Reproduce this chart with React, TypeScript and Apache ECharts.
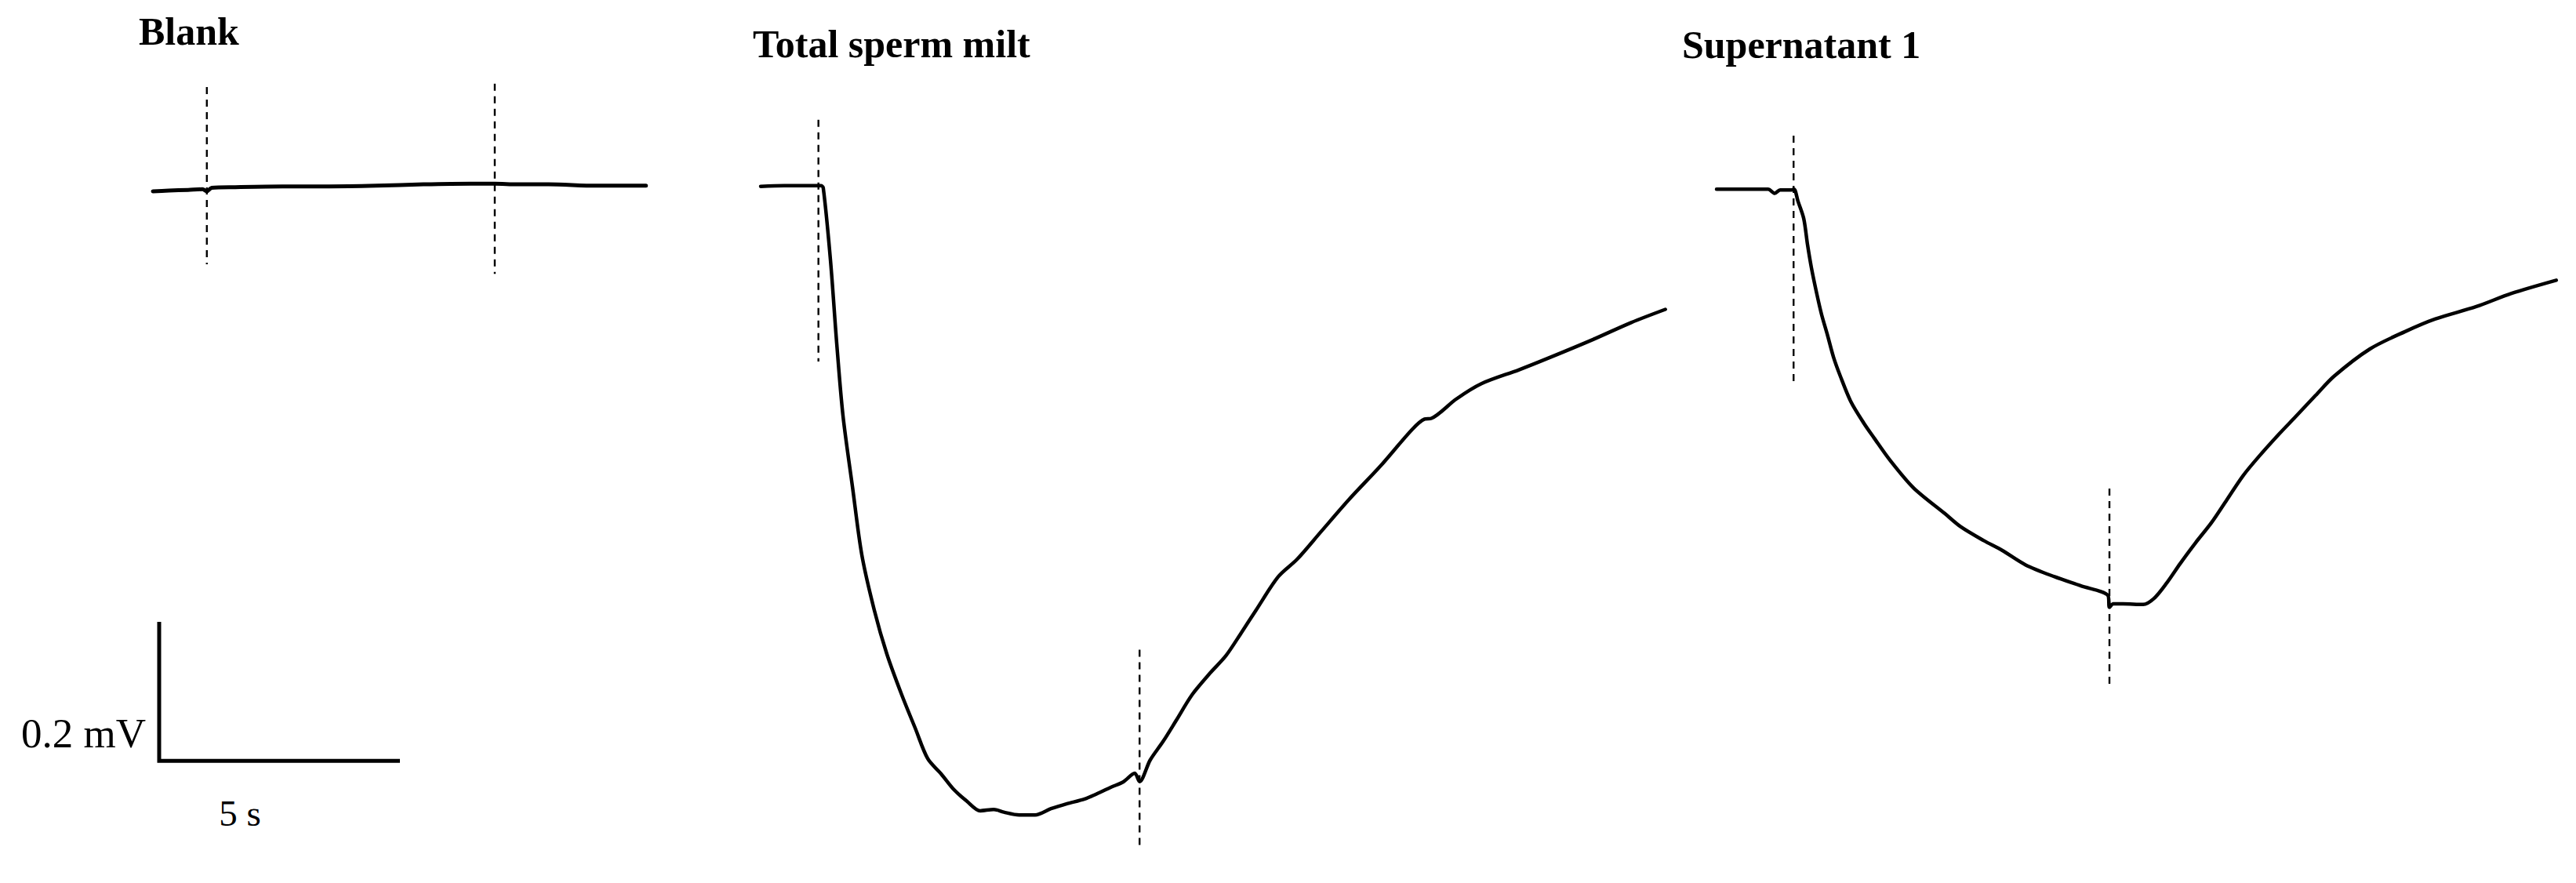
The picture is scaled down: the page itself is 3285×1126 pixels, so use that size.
import React, { useEffect, useRef } from "react";
import * as echarts from "echarts";

// ---- Data (time in s, potential in mV relative to the starting baseline) ----
const panelTitles = ["Blank", "Total sperm milt", "Supernatant 1"];

const blankT = [0, 0.33, 0.73, 1.03, 1.12, 1.22, 1.71, 2.69, 3.66, 4.64, 5.62, 6.6, 7.1, 7.57, 8.22, 9.2, 10.24];
const blankV = [-0.004, -0.003, -0.002, -0.001, -0.004, 0.001, 0.002, 0.003, 0.003, 0.004, 0.006, 0.007, 0.007, 0.006, 0.006, 0.004, 0.004];

const totalT = [0, 0.49, 0.98, 1.25, 1.3, 1.45, 1.58, 1.71, 1.91, 2.1, 2.36, 2.62, 2.93, 3.21, 3.47, 3.75, 4.02, 4.28, 4.56, 4.84, 5.05, 5.37, 5.7, 6.03, 6.35, 6.73, 7.0, 7.28, 7.54, 7.77, 7.87, 8.09, 8.36, 8.63, 8.96, 9.33, 9.66, 9.98, 10.29, 10.75, 11.14, 11.64, 12.23, 12.88, 13.53, 13.79, 13.93, 14.45, 14.97, 15.75, 16.4, 17.3, 18.08, 18.79];
const totalV = [0.003, 0.004, 0.004, 0.004, 0.001, -0.103, -0.223, -0.327, -0.431, -0.527, -0.607, -0.67, -0.729, -0.777, -0.821, -0.843, -0.866, -0.882, -0.896, -0.894, -0.898, -0.902, -0.902, -0.893, -0.886, -0.879, -0.871, -0.862, -0.854, -0.842, -0.854, -0.823, -0.796, -0.766, -0.729, -0.698, -0.673, -0.64, -0.607, -0.559, -0.534, -0.494, -0.447, -0.399, -0.347, -0.332, -0.331, -0.303, -0.281, -0.261, -0.243, -0.217, -0.193, -0.174];

const superT = [0, 0.5, 1.07, 1.21, 1.32, 1.56, 1.61, 1.69, 1.81, 1.89, 1.97, 2.08, 2.18, 2.3, 2.43, 2.57, 2.79, 3.06, 3.27, 3.6, 4.09, 4.74, 5.07, 5.55, 5.93, 6.42, 7.02, 7.56, 8.13, 8.16, 8.24, 8.44, 8.86, 9.09, 9.35, 9.63, 9.95, 10.28, 10.6, 10.93, 11.25, 11.69, 12.02, 12.44, 12.83, 13.57, 14.3, 14.92, 15.78, 16.51, 17.44];
const superV = [-0.001, -0.001, -0.001, -0.007, -0.002, -0.002, -0.001, -0.018, -0.043, -0.081, -0.114, -0.151, -0.181, -0.21, -0.243, -0.27, -0.307, -0.338, -0.359, -0.391, -0.431, -0.468, -0.487, -0.507, -0.521, -0.542, -0.559, -0.572, -0.586, -0.603, -0.598, -0.598, -0.599, -0.59, -0.568, -0.54, -0.51, -0.481, -0.448, -0.414, -0.387, -0.353, -0.329, -0.298, -0.27, -0.231, -0.206, -0.188, -0.17, -0.151, -0.132];

// event markers: [time s, top mV, bottom mV]
const blankMarkers = [[1.12, 0.146, -0.109], [7.1, 0.151, -0.123]];
const totalMarkers = [[1.2, 0.099, -0.249], [7.87, -0.664, -0.946]];
const superMarkers = [[1.6, 0.076, -0.279], [8.16, -0.432, -0.718]];

// scale bar: origin (s, mV) and lengths
const scaleOrigin = [0.13, -0.824];
const scaleLenS = 5;
const scaleLenMV = 0.2;
const scaleLabels = ["0.2 mV", "5 s"];

// ---- Layout ----
const PX_PER_S = 61.4;
const PX_PER_MV = 900;
const Y_MIN = -1.0;
const Y_MAX = 0.25;
const GRID_TOP = 19;
const panelLeft = [195, 970, 2189];
const panelTMax = [10.5, 19.2, 17.8];
const lineWidths = [5, 4.5, 4.5];

export default function App() {
  const ref = useRef<HTMLDivElement>(null);

  useEffect(() => {
    const chart = echarts.init(ref.current!, null, { renderer: "svg" });
    const traces = [
      blankT.map((t, i) => [t, blankV[i]]),
      totalT.map((t, i) => [t, totalV[i]]),
      superT.map((t, i) => [t, superV[i]]),
    ];
    const markers = [blankMarkers, totalMarkers, superMarkers];

    const grids = panelLeft.map((left, i) => ({
      left,
      top: GRID_TOP,
      width: panelTMax[i] * PX_PER_S,
      height: (Y_MAX - Y_MIN) * PX_PER_MV,
      containLabel: false,
    }));
    const xAxes = panelLeft.map((_, i) => ({
      type: "value",
      gridIndex: i,
      min: 0,
      max: panelTMax[i],
      show: false,
    }));
    const yAxes = panelLeft.map((_, i) => ({
      type: "value",
      gridIndex: i,
      min: Y_MIN,
      max: Y_MAX,
      show: false,
    }));

    const series: any[] = [];
    traces.forEach((data, i) => {
      series.push({
        type: "line",
        xAxisIndex: i,
        yAxisIndex: i,
        data,
        symbol: "none",
        smooth: 0.3,
        clip: false,
        silent: true,
        lineStyle: { color: "#000", width: lineWidths[i], join: "round", cap: "round" },
        z: 3,
      });
      markers[i].forEach((m) => {
        series.push({
          type: "line",
          xAxisIndex: i,
          yAxisIndex: i,
          data: [
            [m[0], m[1]],
            [m[0], m[2]],
          ],
          symbol: "none",
          clip: false,
          silent: true,
          lineStyle: { color: "#000", width: 2.4, type: [9, 7] },
          z: 2,
        });
      });
    });
    // scale bar
    series.push({
      type: "line",
      xAxisIndex: 0,
      yAxisIndex: 0,
      data: [
        [scaleOrigin[0], scaleOrigin[1] + scaleLenMV],
        [scaleOrigin[0], scaleOrigin[1]],
        [scaleOrigin[0] + scaleLenS, scaleOrigin[1]],
      ],
      symbol: "none",
      clip: false,
      silent: true,
      lineStyle: { color: "#000", width: 5, join: "miter", cap: "butt" },
      z: 3,
    });

    const serif = "'Liberation Serif', 'Times New Roman', serif";
    const titlePos = [
      [177, 40],
      [960, 56],
      [2145, 57],
    ];
    const graphic: any[] = panelTitles.map((t, i) => ({
      type: "text",
      x: titlePos[i][0],
      y: titlePos[i][1],
      silent: true,
      style: {
        text: t,
        fontFamily: serif,
        fontWeight: "bold",
        fontSize: 50,
        fill: "#000",
        align: "left",
        verticalAlign: "middle",
      },
    }));
    graphic.push({
      type: "text",
      x: 186,
      y: 935,
      silent: true,
      style: {
        text: scaleLabels[0],
        fontFamily: serif,
        fontSize: 53,
        fill: "#000",
        align: "right",
        verticalAlign: "middle",
      },
    });
    graphic.push({
      type: "text",
      x: 306,
      y: 1037,
      silent: true,
      style: {
        text: scaleLabels[1],
        fontFamily: serif,
        fontSize: 47,
        fill: "#000",
        align: "center",
        verticalAlign: "middle",
      },
    });

    chart.setOption({
      animation: false,
      backgroundColor: "#fff",
      grid: grids,
      xAxis: xAxes,
      yAxis: yAxes,
      series,
      graphic,
    });
    return () => chart.dispose();
  }, []);

  return (
    <div
      ref={ref}
      style={{ position: "absolute", left: 0, top: 0, width: 3285, height: 1126, background: "#fff" }}
    />
  );
}
